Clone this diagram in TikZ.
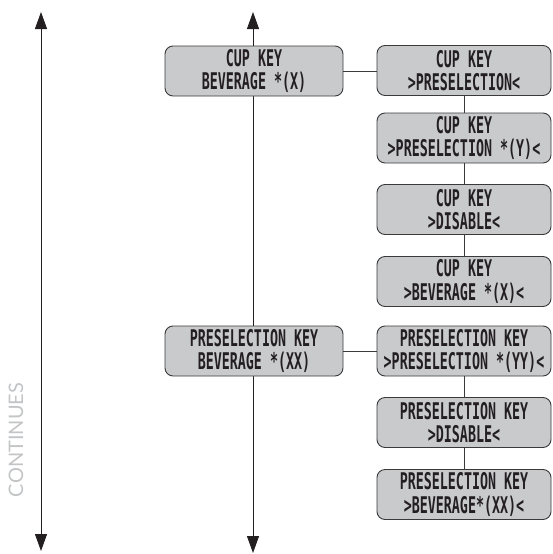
\documentclass[tikz,border=0pt]{standalone}
\usepackage{fontspec}
\newfontfamily\boxfont[FakeStretch=0.58]{DejaVu Sans Mono}
\newfontfamily\contfont{Lato}
\usetikzlibrary{arrows.meta}
\definecolor{boxfill}{HTML}{C9CACC}
\definecolor{boxline}{HTML}{3A3A3A}
\definecolor{arrowcol}{HTML}{231F20}
\definecolor{contgray}{HTML}{C3C4C6}
\definecolor{textcol}{HTML}{231F20}
\begin{document}
\begin{tikzpicture}[x=1pt,y=-1pt,
  keybox/.style={draw=boxline, fill=boxfill, line width=0.9pt, rounded corners=8pt,
    minimum height=50pt, inner sep=0pt, align=center, text=textcol,
    font=\boxfont\bfseries\fontsize{23}{23.5}\selectfont},
  leftbox/.style={keybox, minimum width=178pt},
  rightbox/.style={keybox, minimum width=174pt},
  link/.style={draw=boxline, line width=0.9pt},
  mainarrow/.style={draw=arrowcol, line width=1pt,
    {Triangle[length=17pt,width=12pt]}-{Triangle[length=17pt,width=12pt]}}]
\useasboundingbox (0,0) rectangle (553,554);

\coordinate (a1top) at (41,12);
\coordinate (a1bot) at (41,551);
\coordinate (a2top) at (253,12);
\coordinate (a2bot) at (253,553);
\draw[mainarrow] (a1top) -- (a1bot);
\draw[mainarrow] (a2top) -- (a2bot);

\node[rotate=90, text=contgray, font=\contfont\fontsize{20}{20}\selectfont] (cont) at (16,440) {CONTINUES};

\node[leftbox] (L1) at (254,71) {CUP KEY\\BEVERAGE *(X)};
\node[rightbox] (R1) at (464,70.5) {CUP KEY\\>PRESELECTION<};
\node[rightbox] (R2) at (464,138) {CUP KEY\\>PRESELECTION *(Y)<};
\node[rightbox] (R3) at (464,209.5) {CUP KEY\\>DISABLE<};
\node[rightbox] (R4) at (464,281.5) {CUP KEY\\>BEVERAGE *(X)<};
\node[leftbox] (L2) at (254,351) {PRESELECTION KEY\\BEVERAGE *(XX)};
\node[rightbox] (R5) at (464,351) {PRESELECTION KEY\\>PRESELECTION *(YY)<};
\node[rightbox] (R6) at (464,422.5) {PRESELECTION KEY\\>DISABLE<};
\node[rightbox] (R7) at (464,494.5) {PRESELECTION KEY\\>BEVERAGE*(XX)<};

\draw[link] (L1.east) -- (L1.east -| R1.west);
\draw[link] (L2.east) -- (L2.east -| R5.west);
\draw[link] (R1.south) -- (R2.north);
\draw[link] (R2.south) -- (R3.north);
\draw[link] (R3.south) -- (R4.north);
\draw[link] (R5.south) -- (R6.north);
\draw[link] (R6.south) -- (R7.north);
\end{tikzpicture}
\end{document}
